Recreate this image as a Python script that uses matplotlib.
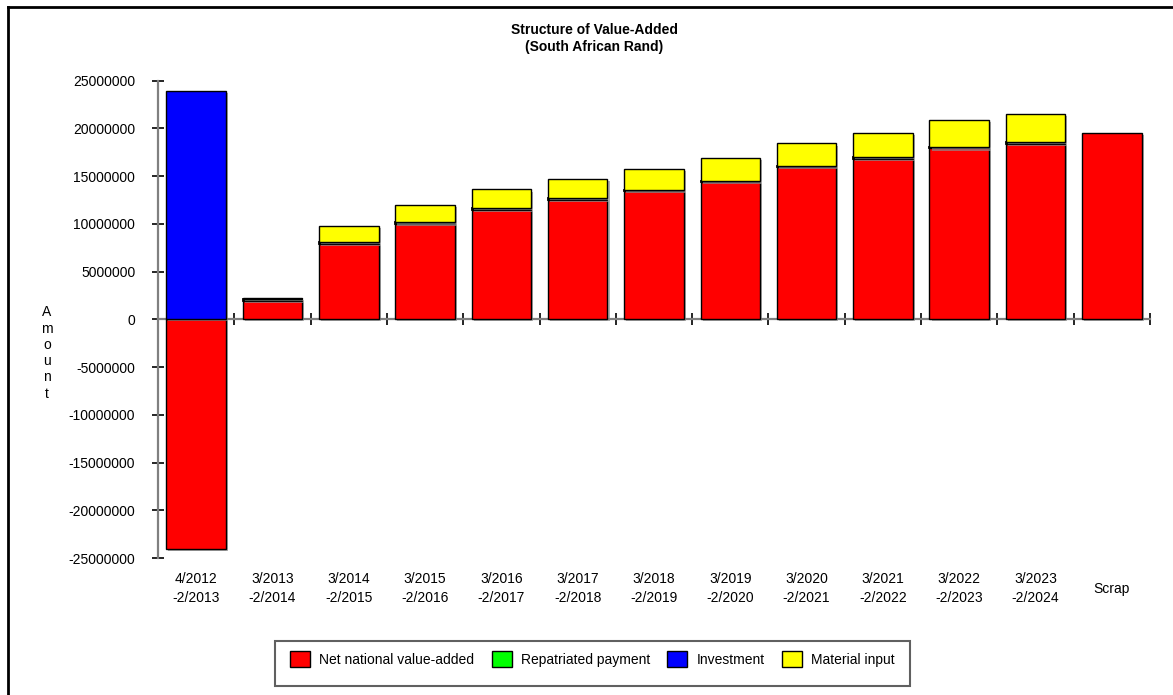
import matplotlib
matplotlib.use("Agg")
import matplotlib.pyplot as plt
import matplotlib.transforms as mtransforms
from matplotlib.patches import Rectangle, Patch
from matplotlib.lines import Line2D
import matplotlib.patheffects as pe
import numpy as np

plt.rcParams['font.family'] = ['Liberation Sans', 'DejaVu Sans']

categories = ["4/2012\n-2/2013", "3/2013\n-2/2014", "3/2014\n-2/2015", "3/2015\n-2/2016",
              "3/2016\n-2/2017", "3/2017\n-2/2018", "3/2018\n-2/2019", "3/2019\n-2/2020",
              "3/2020\n-2/2021", "3/2021\n-2/2022", "3/2022\n-2/2023", "3/2023\n-2/2024",
              "Scrap"]
net_value_added = [-24050000, 1950000, 7900000, 10000000, 11500000, 12550000, 13480000,
                   14430000, 16000000, 16820000, 17900000, 18420000, 19540000]
repatriated = [0, 150000, 200000, 150000, 150000, 120000, 120000, 80000, 80000,
               200000, 120000, 120000, 0]
investment = [23900000, 0, 0, 0, 0, 0, 0, 0, 0, 0, 0, 0, 0]
material_input = [0, 160000, 1670000, 1790000, 1960000, 2050000, 2170000, 2410000,
                  2350000, 2520000, 2880000, 2990000, 0]
series_names = ["Net national value-added", "Repatriated payment", "Investment", "Material input"]
series_colors = ["#ff0000", "#00ff00", "#0000ff", "#ffff00"]
yticks = [25000000, 20000000, 15000000, 10000000, 5000000, 0, -5000000, -10000000,
          -15000000, -20000000, -25000000]

W, H = 1173, 695
fig = plt.figure(figsize=(W / 100, H / 100), dpi=100)

def fx(px):
    return px / W

def fy(py):
    return 1 - py / H

ax_left, ax_right = 158, 1150
ax_top, ax_bot = 80.7, 558
ax = fig.add_axes([fx(ax_left), fy(ax_bot), fx(ax_right - ax_left), (ax_bot - ax_top) / H])

n = len(categories)
x = np.arange(n) + 0.5
width = 0.78
shadow = [pe.SimplePatchShadow(offset=(1.5, -1.5), shadow_rgbFace=(0.55, 0.55, 0.55), alpha=0.7), pe.Normal()]

net = np.array(net_value_added, dtype=float)
rep = np.array(repatriated, dtype=float)
inv = np.array(investment, dtype=float)
mat = np.array(material_input, dtype=float)

pos_base = np.where(net > 0, net, 0)
kw = dict(width=width, edgecolor='black', linewidth=1.0, zorder=3)
b1 = ax.bar(x, net, color=series_colors[0], **kw)
b2 = ax.bar(x, rep, bottom=pos_base, color=series_colors[1], edgecolor='black',
            linewidth=1.3, width=width, zorder=3)
b3 = ax.bar(x, inv, bottom=pos_base + rep, color=series_colors[2], **kw)
b4 = ax.bar(x, mat, bottom=pos_base + rep + inv, color=series_colors[3], **kw)
for bars, vals in ((b1, net), (b2, rep), (b3, inv), (b4, mat)):
    for r, v in zip(bars, vals):
        if v == 0:
            r.set_visible(False)
        else:
            r.set_path_effects(shadow)

ax.set_xlim(0, n)
ax.set_ylim(-25000000, 25000000)

for s in ['top', 'right']:
    ax.spines[s].set_visible(False)
ax.spines['left'].set_color('#808080')
ax.spines['left'].set_linewidth(1.6)
ax.spines['bottom'].set_position(('data', 0))
ax.spines['bottom'].set_color('#808080')
ax.spines['bottom'].set_linewidth(1.6)
ax.spines['bottom'].set_zorder(2)

ax.set_yticks(yticks)
ax.set_yticklabels([str(v) for v in yticks], fontsize=10)
ax.tick_params(axis='y', direction='inout', length=8, width=1.2, color='black', pad=12.4)
ax.set_xticks(np.arange(n + 1))
ax.set_xticklabels([])
ax.tick_params(axis='x', direction='inout', length=8, width=1.2, color='black')

trans = mtransforms.blended_transform_factory(ax.transData, fig.transFigure)
for xi, lab in zip(x, categories):
    ax.text(xi, fy(588.5), lab, transform=trans, ha='center', va='center',
            fontsize=10, linespacing=1.45)

fig.text(fx(594), fy(30.5), "Structure of Value-Added", ha='center', va='center',
         fontsize=10, fontweight='bold')
fig.text(fx(594), fy(47.5), "(South African Rand)", ha='center', va='center',
         fontsize=10, fontweight='bold')
fig.text(fx(47), fy(353), "A\nm\no\nu\nn\nt", ha='center', va='center',
         fontsize=10, linespacing=1.2)

# figure border
fig.add_artist(Line2D([fx(8), 1], [fy(7), fy(7)], color='black', linewidth=2))
fig.add_artist(Line2D([fx(8), fx(8)], [0, fy(7)], color='black', linewidth=2))

# legend box
fig.add_artist(Rectangle((fx(275), fy(686)), fx(910 - 275), (686 - 641) / H,
                         transform=fig.transFigure, fill=False, edgecolor='#606060',
                         linewidth=1.5))
handles = [Patch(facecolor=c, edgecolor='black', linewidth=1.0) for c in series_colors]
leg = fig.legend(handles, series_names, loc='center left',
                 bbox_to_anchor=(fx(290), fy(659)), ncol=4, frameon=False,
                 fontsize=10, handlelength=1.45, handleheight=1.3,
                 handletextpad=0.65, columnspacing=1.25, borderpad=0, borderaxespad=0)

fig.savefig("out.png", dpi=100)
